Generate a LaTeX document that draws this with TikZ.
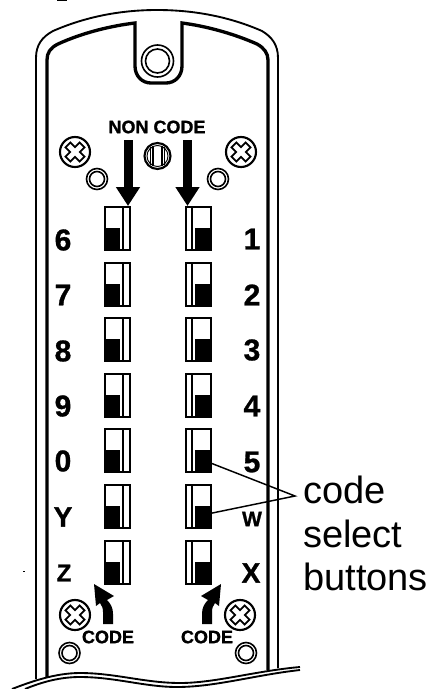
\documentclass[tikz,border=0pt]{standalone}
\usepackage{fontspec}
\usetikzlibrary{arrows.meta}
\setmainfont{Liberation Sans}
\newfontfamily\heavyfont[UprightFont={* Bold},FakeBold=1]{Liberation Sans}

\tikzset{
  outerline/.style={line width=1.4pt},
  innerline/.style={line width=2.5pt},
  switchline/.style={line width=1.4pt,fill=white},
  knob/.style={fill=black,inner sep=0pt,minimum width=11.6pt,minimum height=16.5pt},
  ringline/.style={line width=1.2pt},
  screwline/.style={line width=1.3pt},
  keylabel/.style={inner sep=0pt,font=\heavyfont\fontsize{22.5}{24}\selectfont},
  codelabel/.style={inner sep=0pt,font=\heavyfont\fontsize{13.5}{15}\selectfont},
  bigarrow/.style={line width=6.75pt,-{Triangle[length=14.25pt,width=17.25pt]}},
  leader/.style={line width=1.1pt},
}

\begin{document}
\begin{tikzpicture}[x=0.75pt,y=0.75pt,yscale=-1]
  \useasboundingbox (0,0) rectangle (433,689);

  %Shape: Outer edge
  \draw [outerline] (36,679) -- (36,58) .. controls (36,45) and (42,37) .. (53,31) .. controls (85,17) and (120,10) .. (157,10) .. controls (195,10) and (230,17) .. (262,31) .. controls (272,37) and (278,45) .. (278,58) -- (278,668);
  %Shape: Inner edge with lug
  \draw [innerline] (47,677) -- (47,60) .. controls (47,53) and (50,48) .. (58,44) .. controls (82,33) and (110,26) .. (135,23) -- (135,66) .. controls (135,76) and (142,83) .. (151,83) -- (166,83) .. controls (175,83) and (182,76) .. (182,66) -- (182,23) .. controls (205,26) and (232,33) .. (257,44) .. controls (264,48) and (268,53) .. (268,60) -- (268,670);
  %Shape: Broken edge
  \draw [outerline] (12,689) .. controls (30,682) and (55,673) .. (80,673) .. controls (115,673) and (145,683) .. (180,683) .. controls (215,683) and (255,671) .. (300,667);
  \draw [outerline] (25,689) .. controls (42,682) and (60,677) .. (80,677) .. controls (115,677) and (145,687) .. (177,687) .. controls (215,687) and (255,675) .. (300,670);

  %Shape: Lug hole
  \draw [ringline] (157.5,61) circle [radius=16];
  \draw [ringline] (157.5,61) circle [radius=12];
  %Shape: Centre catch
  \draw [line width=1.6pt] (157.5,156) circle [radius=13];
  \draw [line width=.7pt] (157.5,156) circle [radius=10.5];
  \draw [line width=.9pt] (150.5,147) -- (150.5,165) (153,146) -- (153,166) (162,146) -- (162,166) (164.5,147) -- (164.5,165);

  %Shape: Screws
  \draw [line width=1.6pt] (75,152) circle [radius=15];
  \draw [screwline,shift={(75,152)},rotate=45] (-3.5,-10) -- (3.5,-10) -- (3.5,-3.5) -- (10,-3.5) -- (10,3.5) -- (3.5,3.5) -- (3.5,10) -- (-3.5,10) -- (-3.5,3.5) -- (-10,3.5) -- (-10,-3.5) -- (-3.5,-3.5) -- cycle;
  \draw [line width=1.6pt] (241,152) circle [radius=15];
  \draw [screwline,shift={(241,152)},rotate=45] (-3.5,-10) -- (3.5,-10) -- (3.5,-3.5) -- (10,-3.5) -- (10,3.5) -- (3.5,3.5) -- (3.5,10) -- (-3.5,10) -- (-3.5,3.5) -- (-10,3.5) -- (-10,-3.5) -- (-3.5,-3.5) -- cycle;
  \draw [line width=1.6pt] (75,615) circle [radius=15];
  \draw [screwline,shift={(75,615)},rotate=45] (-3.5,-10) -- (3.5,-10) -- (3.5,-3.5) -- (10,-3.5) -- (10,3.5) -- (3.5,3.5) -- (3.5,10) -- (-3.5,10) -- (-3.5,3.5) -- (-10,3.5) -- (-10,-3.5) -- (-3.5,-3.5) -- cycle;
  \draw [line width=1.6pt] (240,615) circle [radius=15];
  \draw [screwline,shift={(240,615)},rotate=45] (-3.5,-10) -- (3.5,-10) -- (3.5,-3.5) -- (10,-3.5) -- (10,3.5) -- (3.5,3.5) -- (3.5,10) -- (-3.5,10) -- (-3.5,3.5) -- (-10,3.5) -- (-10,-3.5) -- (-3.5,-3.5) -- cycle;

  %Shape: Small rings
  \draw [ringline] (97,179) circle [radius=10.5] (97,179) circle [radius=7.5];
  \draw [ringline] (218,179) circle [radius=10.5] (218,179) circle [radius=7.5];
  \draw [ringline] (69.5,653) circle [radius=10.5] (69.5,653) circle [radius=7.5];
  \draw [ringline] (246,653) circle [radius=10.5] (246,653) circle [radius=7.5];

  %Shape: Left switches
  \draw [switchline] (105,207) rectangle (130,250) (123,207) -- (123,250);
  \draw [switchline] (105,263) rectangle (130,306) (123,263) -- (123,306);
  \draw [switchline] (105,318) rectangle (130,361) (123,318) -- (123,361);
  \draw [switchline] (105,374) rectangle (130,417) (123,374) -- (123,417);
  \draw [switchline] (105,429) rectangle (130,472) (123,429) -- (123,472);
  \draw [switchline] (105,485) rectangle (130,528) (123,485) -- (123,528);
  \draw [switchline] (105,541) rectangle (130,584) (123,541) -- (123,584);
  %Shape: Right switches
  \draw [switchline] (186,207) rectangle (211,250) (192,207) -- (192,250);
  \draw [switchline] (186,263) rectangle (211,306) (192,263) -- (192,306);
  \draw [switchline] (186,318) rectangle (211,361) (192,318) -- (192,361);
  \draw [switchline] (186,374) rectangle (211,417) (192,374) -- (192,417);
  \draw [switchline] (186,429) rectangle (211,472) (192,429) -- (192,472);
  \draw [switchline] (186,485) rectangle (211,528) (192,485) -- (192,528);
  \draw [switchline] (186,541) rectangle (211,584) (192,541) -- (192,584);

  % Knobs
  \node [knob] (knobsix) at (112.5,239) {};
  \node [knob] (knobseven) at (112.5,295) {};
  \node [knob] (knobeight) at (112.5,350) {};
  \node [knob] (knobnine) at (112.5,406) {};
  \node [knob] (knobzero) at (112.5,461) {};
  \node [knob] (knoby) at (112.5,517) {};
  \node [knob] (knobz) at (112.5,573) {};
  \node [knob] (knobone) at (203,239) {};
  \node [knob] (knobtwo) at (203,295) {};
  \node [knob] (knobthree) at (203,350) {};
  \node [knob] (knobfour) at (203,406) {};
  \node [knob] (knobfive) at (203,461) {};
  \node [knob] (knobw) at (203,517) {};
  \node [knob] (knobx) at (203,573) {};

  % Text Node
  \node [keylabel] (labelsix) at (63,240) {6};
  \node [keylabel] (labelseven) at (63,295) {7};
  \node [keylabel] (labeleight) at (63,351) {8};
  \node [keylabel] (labelnine) at (63,406) {9};
  \node [keylabel] (labelzero) at (63,461) {0};
  \node [keylabel,font=\heavyfont\fontsize{21}{24}\selectfont] (labely) at (63,517) {Y};
  \node [keylabel,font=\heavyfont\fontsize{18}{24}\selectfont] (labelz) at (64,573) {Z};
  \node [keylabel] (labelone) at (252,239) {1};
  \node [keylabel] (labeltwo) at (252,295) {2};
  \node [keylabel] (labelthree) at (252,350) {3};
  \node [keylabel] (labelfour) at (252,406) {4};
  \node [keylabel] (labelfive) at (252,462) {5};
  \node [keylabel,font=\heavyfont\fontsize{15.75}{24}\selectfont] (labelw) at (252,519) {W};
  \node [keylabel,font=\heavyfont\fontsize{21}{24}\selectfont] (labelx) at (251,573) {X};

  % Text Node
  \node [codelabel] (noncode) at (157,127) {NON CODE};
  \node [codelabel] (codeleft) at (108,637) {CODE};
  \node [codelabel] (coderight) at (207,637) {CODE};

  %Straight Lines
  \coordinate (nonleft) at (128,140);
  \coordinate (nonright) at (187.5,140);
  \coordinate (tipleft) at (128,206);
  \coordinate (tipright) at (187.5,206);
  \draw [bigarrow] (nonleft) -- (tipleft);
  \draw [bigarrow] (nonright) -- (tipright);

  %Shape: Bent arrows
  \fill (94,584) -- (114,596) -- (107,600) .. controls (111,604) and (113,608) .. (113,614) -- (113,624) -- (103,624) -- (103,612) .. controls (103,608) and (102,606) .. (100,603) -- (96,606) -- cycle;
  \fill (221,584) -- (201,596) -- (208,600) .. controls (204,604) and (202,608) .. (202,614) -- (202,624) -- (212,624) -- (212,612) .. controls (212,608) and (213,606) .. (215,603) -- (219,606) -- cycle;

  % Text Node
  \node [inner sep=0pt,anchor=north west,align=left,font=\fontsize{28.5}{32.6}\selectfont] (selectlabel) at (303,476) {code\\select\\buttons};
  \coordinate (apex) at (295,496);
  \draw [leader] (knobfive.-15) -- (apex) -- (knobw.25);

  %Shape: Stray marks
  \fill (57,0) rectangle (67,1);
  \fill (23,570.5) rectangle (25,571.5);
\end{tikzpicture}
\end{document}
